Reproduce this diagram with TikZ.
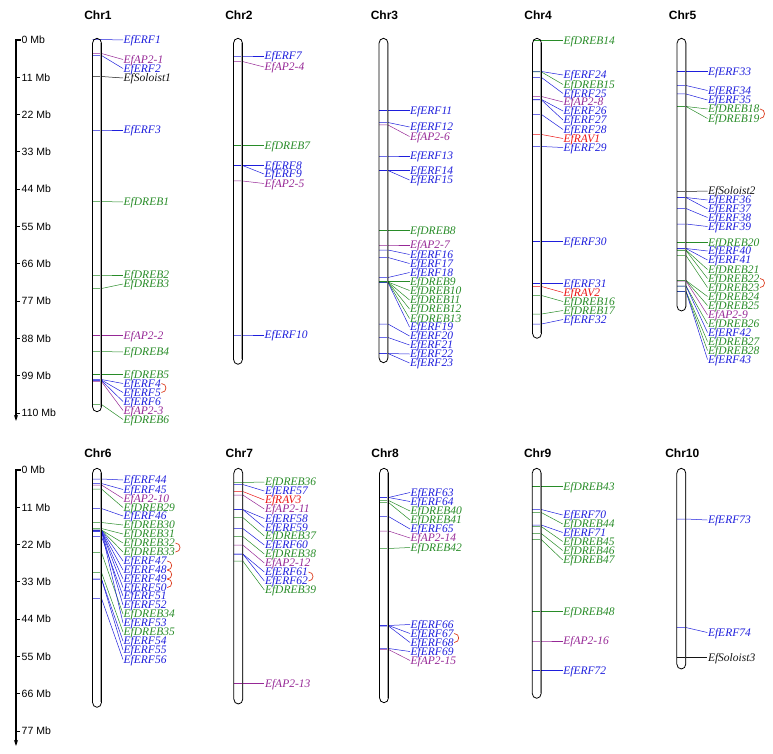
\documentclass[tikz,border=0pt]{standalone}
\usepackage{fontspec}
\setmainfont{Liberation Serif}
\setsansfont{Liberation Sans}
\usetikzlibrary{arrows.meta}
\definecolor{erfc}{RGB}{30,30,220}
\definecolor{drebc}{RGB}{40,140,40}
\definecolor{apc}{RGB}{150,40,150}
\definecolor{ravc}{RGB}{235,20,20}
\definecolor{solc}{RGB}{20,20,20}
\definecolor{arcc}{RGB}{220,60,30}
\tikzset{
  erf/.style={color=erfc},
  dreb/.style={color=drebc},
  ap/.style={color=apc},
  rav/.style={color=ravc},
  sol/.style={color=solc},
  lab/.style={font=\fontsize{11.5}{12}\selectfont\itshape, inner sep=0.5pt, anchor=west, text height=7.5pt, text depth=0pt},
  leader/.style={line width=0.5pt},
  chrline/.style={draw=black, line width=0.8pt},
  chrshade/.style={draw=black!35, line width=0.8pt},
  chrtitle/.style={font=\sffamily\bfseries\fontsize{12}{14}\selectfont, inner sep=0pt},
  axlab/.style={font=\sffamily\fontsize{10.5}{12}\selectfont, anchor=west, inner sep=0pt},
  axisline/.style={line width=1.5pt, draw=black},
  arcline/.style={draw=arcc, line width=0.7pt},
}
\newcommand\setchr[1]{\pgfmathsetmacro\xl{#1-4.5}\pgfmathsetmacro\xr{#1+4.5}\pgfmathsetmacro\xt{#1+26}}
\newcommand\gene[4]{%
  \coordinate (g#3) at (\xr,#1);
  \node[lab,#4] (#3) at (\xt,#2) {#3};
  \draw[leader,#4] (\xl,#1) -- (g#3) -- (#3.west);
}
\newcommand\chromo[5]{% name, center, top, bottom, title y
  \node[chrtitle] (#1) at ({#2+1},#5) {#1};
  \draw[chrshade] ({#2+3.6},{#3+5}) -- ({#2+3.6},{#4-5});
  \draw[chrline] ({#2-4.5},{#3+5}) arc[start angle=180,end angle=360,x radius=4.5,y radius=5]
     -- ({#2+4.5},{#4-5}) arc[start angle=0,end angle=180,x radius=4.5,y radius=5] -- cycle;
}
\newcommand\pair[2]{\draw[arcline] (#1.east) .. controls +(6,0) and +(6,0) .. (#2.east);}
\begin{document}
\begin{tikzpicture}[x=1pt,y=-1pt]
\useasboundingbox (0,0) rectangle (773,754);
% ---------- axes ----------
\draw[axisline,-{Stealth[length=6pt,width=4pt]}] (20.5,40) -- (16,40) -- (16,421);
\foreach \i in {0,...,10}{
  \pgfmathtruncatemacro\mb{\i*11}
  \pgfmathsetmacro\yy{40+\i*37.29}
  \draw[line width=0.8pt] (16,\yy) -- (19.5,\yy);
  \node[axlab] (ta\i) at (21.5,\yy) {\mb\ Mb};
}
\draw[axisline,-{Stealth[length=6pt,width=4pt]}] (20.5,470) -- (16,470) -- (16,746);
\foreach \i in {0,...,7}{
  \pgfmathtruncatemacro\mb{\i*11}
  \pgfmathsetmacro\yy{470+\i*37.29}
  \draw[line width=0.8pt] (16,\yy) -- (19.5,\yy);
  \node[axlab] (tb\i) at (21.5,\yy) {\mb\ Mb};
}
% ---------- Chr1 ----------
\setchr{97}
\gene{39.5}{40}{EfERF1}{erf}
\gene{53.5}{59.5}{EfAP2-1}{ap}
\gene{55.5}{68.5}{EfERF2}{erf}
\gene{76.5}{78}{EfSoloist1}{sol}
\gene{130}{130}{EfERF3}{erf}
\gene{201.5}{202}{EfDREB1}{dreb}
\gene{275}{275}{EfDREB2}{dreb}
\gene{288.5}{284}{EfDREB3}{dreb}
\gene{335.5}{335.5}{EfAP2-2}{ap}
\gene{351.5}{352}{EfDREB4}{dreb}
\gene{374.5}{374.5}{EfDREB5}{dreb}
\gene{379.5}{383.5}{EfERF4}{erf}
\gene{380}{392.5}{EfERF5}{erf}
\gene{380.5}{401.5}{EfERF6}{erf}
\gene{381.5}{410.5}{EfAP2-3}{ap}
\gene{404.5}{419.5}{EfDREB6}{dreb}
\pair{EfERF4}{EfERF5}
\chromo{Chr1}{97}{38.3}{411.7}{15}
% ---------- Chr2 ----------
\setchr{238}
\gene{56}{56}{EfERF7}{erf}
\gene{61.5}{67}{EfAP2-4}{ap}
\gene{145.5}{145.5}{EfDREB7}{dreb}
\gene{165.5}{165.5}{EfERF8}{erf}
\gene{165.5}{174}{EfERF9}{erf}
\gene{181}{183.5}{EfAP2-5}{ap}
\gene{335}{335}{EfERF10}{erf}
\chromo{Chr2}{238}{38.3}{364.3}{15}
% ---------- Chr3 ----------
\setchr{383.5}
\gene{110.5}{110.5}{EfERF11}{erf}
\gene{122.5}{127}{EfERF12}{erf}
\gene{125}{136.5}{EfAP2-6}{ap}
\gene{156}{156}{EfERF13}{erf}
\gene{170.5}{170.5}{EfERF14}{erf}
\gene{170.5}{180}{EfERF15}{erf}
\gene{230.5}{230.5}{EfDREB8}{dreb}
\gene{245}{245}{EfAP2-7}{ap}
\gene{250}{254.5}{EfERF16}{erf}
\gene{257.5}{263.5}{EfERF17}{erf}
\gene{277.5}{272.5}{EfERF18}{erf}
\gene{281.5}{281.5}{EfDREB9}{dreb}
\gene{282}{290.5}{EfDREB10}{dreb}
\gene{282}{300}{EfDREB11}{dreb}
\gene{282}{309}{EfDREB12}{dreb}
\gene{282}{318.5}{EfDREB13}{dreb}
\gene{282.5}{327}{EfERF19}{erf}
\gene{324}{336}{EfERF20}{erf}
\gene{337.5}{345}{EfERF21}{erf}
\gene{353.5}{354}{EfERF22}{erf}
\gene{353.5}{363}{EfERF23}{erf}
\chromo{Chr3}{383.5}{38.3}{362.7}{15}
% ---------- Chr4 ----------
\setchr{537}
\gene{40.5}{40.5}{EfDREB14}{dreb}
\gene{71.5}{75}{EfERF24}{erf}
\gene{72}{84.5}{EfDREB15}{dreb}
\gene{77.5}{93.5}{EfERF25}{erf}
\gene{96.5}{102}{EfAP2-8}{ap}
\gene{99.5}{111}{EfERF26}{erf}
\gene{100}{120}{EfERF27}{erf}
\gene{114.5}{129.5}{EfERF28}{erf}
\gene{134.5}{138.5}{EfRAV1}{rav}
\gene{146.5}{147.5}{EfERF29}{erf}
\gene{241.5}{241.5}{EfERF30}{erf}
\gene{283.5}{283.5}{EfERF31}{erf}
\gene{286.5}{292.5}{EfRAV2}{rav}
\gene{295.5}{301.5}{EfDREB16}{dreb}
\gene{314}{310.5}{EfDREB17}{dreb}
\gene{324}{319.5}{EfERF32}{erf}
\chromo{Chr4}{537}{38.3}{338.3}{15}
% ---------- Chr5 ----------
\setchr{681.5}
\gene{71.5}{71.5}{EfERF33}{erf}
\gene{85.5}{90.5}{EfERF34}{erf}
\gene{94}{100}{EfERF35}{erf}
\gene{106.5}{109}{EfDREB18}{dreb}
\gene{106.5}{118.5}{EfDREB19}{dreb}
\gene{191.5}{191}{EfSoloist2}{sol}
\gene{197.5}{200}{EfERF36}{erf}
\gene{197.5}{209}{EfERF37}{erf}
\gene{208.5}{217.5}{EfERF38}{erf}
\gene{224}{226.5}{EfERF39}{erf}
\gene{242.5}{242.5}{EfDREB20}{dreb}
\gene{248.5}{251}{EfERF40}{erf}
\gene{248.5}{260}{EfERF41}{erf}
\gene{250}{269.5}{EfDREB21}{dreb}
\gene{250.5}{278.5}{EfDREB22}{dreb}
\gene{255.5}{287.5}{EfDREB23}{dreb}
\gene{280.5}{296.5}{EfDREB24}{dreb}
\gene{280.5}{305.5}{EfDREB25}{dreb}
\gene{281}{315}{EfAP2-9}{ap}
\gene{286}{324}{EfDREB26}{dreb}
\gene{286}{332.5}{EfERF42}{erf}
\gene{291.5}{341.5}{EfDREB27}{dreb}
\gene{291.5}{350.5}{EfDREB28}{dreb}
\gene{291.5}{359.5}{EfERF43}{erf}
\pair{EfDREB18}{EfDREB19}
\pair{EfDREB22}{EfDREB23}
\chromo{Chr5}{681.5}{38.3}{311}{15}
% ---------- Chr6 ----------
\setchr{97}
\gene{479}{480}{EfERF44}{erf}
\gene{483.5}{489.5}{EfERF45}{erf}
\gene{485}{498.5}{EfAP2-10}{ap}
\gene{489}{507.5}{EfDREB29}{dreb}
\gene{508.5}{516}{EfERF46}{erf}
\gene{522.5}{525}{EfDREB30}{dreb}
\gene{528.5}{534}{EfDREB31}{dreb}
\gene{530}{543}{EfDREB32}{dreb}
\gene{530}{552}{EfDREB33}{dreb}
\gene{530}{561}{EfERF47}{erf}
\gene{530.5}{570}{EfERF48}{erf}
\gene{531}{579}{EfERF49}{erf}
\gene{531}{587.5}{EfERF50}{erf}
\gene{536.5}{596}{EfERF51}{erf}
\gene{531}{605}{EfERF52}{erf}
\gene{552.5}{614}{EfDREB34}{dreb}
\gene{531}{623}{EfERF53}{erf}
\gene{572.5}{632}{EfDREB35}{dreb}
\gene{579}{641}{EfERF54}{erf}
\gene{579}{650}{EfERF55}{erf}
\gene{598.5}{659.5}{EfERF56}{erf}
\pair{EfDREB32}{EfDREB33}
\pair{EfERF47}{EfERF48}
\pair{EfERF48}{EfERF49}
\pair{EfERF49}{EfERF50}
\chromo{Chr6}{97}{468.3}{707.3}{453}
% ---------- Chr7 ----------
\setchr{238.3}
\gene{482.5}{482}{EfDREB36}{dreb}
\gene{484.5}{491}{EfERF57}{erf}
\gene{491.5}{500}{EfRAV3}{rav}
\gene{495}{509}{EfAP2-11}{ap}
\gene{509.5}{518.5}{EfERF58}{erf}
\gene{509.5}{527.5}{EfERF59}{erf}
\gene{517.5}{536}{EfDREB37}{dreb}
\gene{528.5}{545}{EfERF60}{erf}
\gene{536.5}{554}{EfDREB38}{dreb}
\gene{545}{563}{EfAP2-12}{ap}
\gene{554}{572}{EfERF61}{erf}
\gene{554}{581}{EfERF62}{erf}
\gene{561}{590}{EfDREB39}{dreb}
\gene{683.5}{683.5}{EfAP2-13}{ap}
\pair{EfERF61}{EfERF62}
\chromo{Chr7}{238.3}{468.3}{704}{453}
% ---------- Chr8 ----------
\setchr{384}
\gene{497.5}{492.5}{EfERF63}{erf}
\gene{497.5}{501.5}{EfERF64}{erf}
\gene{500.5}{511}{EfDREB40}{dreb}
\gene{502.5}{520}{EfDREB41}{dreb}
\gene{516.5}{529}{EfERF65}{erf}
\gene{531}{538}{EfAP2-14}{ap}
\gene{548.5}{547.5}{EfDREB42}{dreb}
\gene{625.5}{624.5}{EfERF66}{erf}
\gene{625.5}{633.5}{EfERF67}{erf}
\gene{626}{642.5}{EfERF68}{erf}
\gene{648.5}{651.5}{EfERF69}{erf}
\gene{649.5}{660.5}{EfAP2-15}{ap}
\pair{EfERF67}{EfERF68}
\chromo{Chr8}{384}{468.3}{702.7}{453}
% ---------- Chr9 ----------
\setchr{536.7}
\gene{486.5}{486.5}{EfDREB43}{dreb}
\gene{509.5}{515}{EfERF70}{erf}
\gene{512.5}{524}{EfDREB44}{dreb}
\gene{525}{532.5}{EfERF71}{erf}
\gene{526.5}{541.5}{EfDREB45}{dreb}
\gene{533.5}{550.5}{EfDREB46}{dreb}
\gene{539.5}{560}{EfDREB47}{dreb}
\gene{611.5}{611.5}{EfDREB48}{dreb}
\gene{641}{641}{EfAP2-16}{ap}
\gene{670.5}{670.5}{EfERF72}{erf}
\chromo{Chr9}{536.7}{468.3}{698.3}{453}
% ---------- Chr10 ----------
\setchr{681.3}
\gene{519}{520}{EfERF73}{erf}
\gene{627.5}{632.5}{EfERF74}{erf}
\gene{657.5}{657.5}{EfSoloist3}{sol}
\chromo{Chr10}{681.3}{468.3}{669}{453}
\end{tikzpicture}
\end{document}
